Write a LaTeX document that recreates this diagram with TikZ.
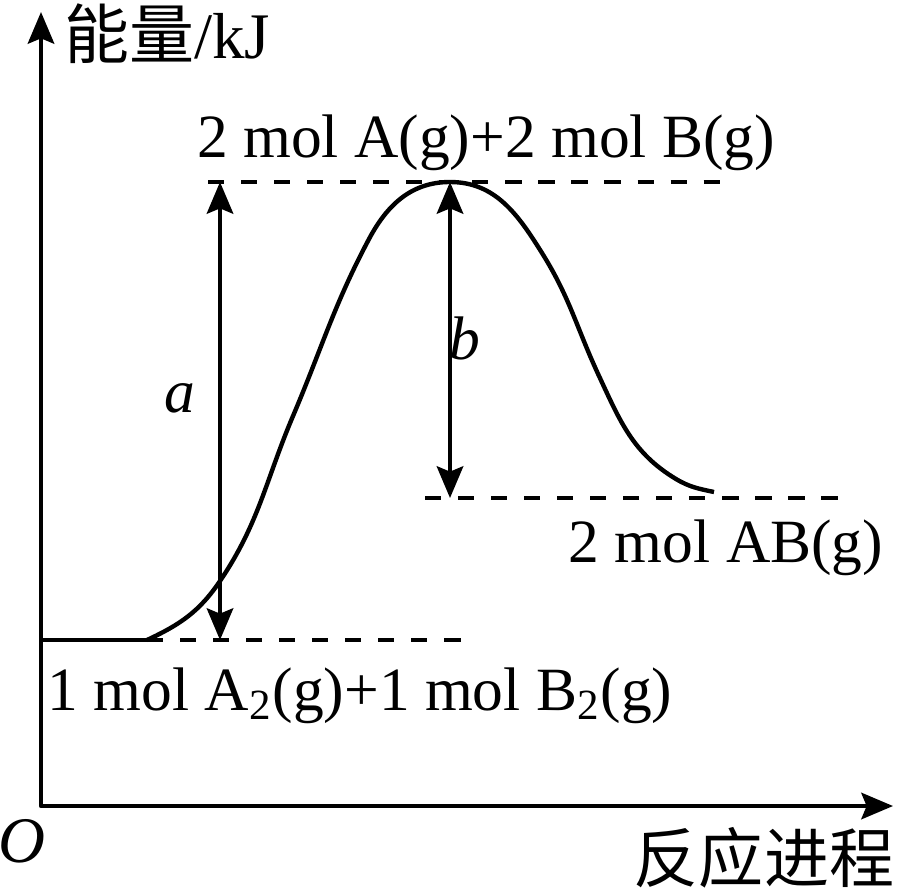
\documentclass[tikz,border=0pt]{standalone}
\usepackage{fontspec}
\setmainfont{Liberation Serif}
\newfontfamily\cjk{Noto Sans CJK SC}
\usetikzlibrary{arrows.meta, calc}

\begin{document}
\begin{tikzpicture}[line cap=butt,line join=round,>={Stealth[length=9pt,width=7.5pt,inset=1.5pt]},x=1cm,y=1cm,
  axis/.style={line width=1.25pt},
  level/.style={line width=1.25pt,dash pattern=on 4.6pt off 4.8pt},
  lbl/.style={inner sep=0pt,font=\fontsize{17.5}{20}\selectfont},
  axlbl/.style={inner sep=0pt,font=\fontsize{18.5}{20}\selectfont}]
\useasboundingbox (0,0) rectangle (8.99,8.94);
% axes
\coordinate (O) at (0.41,0.88);
\coordinate (ytip) at (0.41,8.82);
\coordinate (xtip) at (8.93,0.88);
\draw[axis,<->] (ytip) -- (O) -- (xtip);
\node[axlbl] (o) at (0.22,0.53) {\textit{O}};
\node[axlbl] (ylab) at (1.67,8.60) {{\cjk 能量}/kJ};
\node[axlbl] (xlab) at (7.64,0.36) {\cjk 反应进程};
% energy levels
\coordinate (r1) at (1.47,2.54);
\coordinate (r2) at (4.65,2.54);
\coordinate (ts) at (2.08,7.12);
\coordinate (te) at (7.25,7.12);
\coordinate (ps) at (4.25,3.96);
\coordinate (pe) at (8.43,3.96);
\draw[axis] (O|-r1) -- (r1);
\draw[level] (r1) -- (r2);
\draw[level] (ts) -- (te);
\draw[level] (ps) -- (pe);
% reaction path
\coordinate (peak) at (4.50,7.12);
\coordinate (pend) at (7.14,4.02);
\draw[axis] (r1) to[out=25,in=236] (2.20,3.13) to[out=56,in=247] (2.93,4.78)
  to[out=67,in=242] (3.69,6.55) to[out=62,in=180] (peak)
  to[out=0,in=122] (5.42,6.41) to[out=-58,in=115] (5.99,5.18)
  to[out=-65,in=149] (6.76,4.15) to[out=-31,in=168] (pend);
% a and b
\coordinate (aT) at (2.20,7.12);
\coordinate (aB) at (2.20,2.54);
\coordinate (bB) at (4.50,3.96);
\draw[axis,<->] (aT) -- (aB);
\draw[axis,<->] (peak) -- (bB);
\node[lbl] (a) at (1.80,4.96) {\textit{a}};
\node[lbl] (b) at (4.65,5.56) {\textit{b}};
% labels
\node[lbl,anchor=base] (top) at (4.86,7.37) {2 mol A(g)+2 mol B(g)};
\node[lbl,anchor=base] (prod) at (7.26,3.32) {2 mol AB(g)};
\node[lbl,anchor=base] (reac) at (3.60,1.84) {1 mol A\textsubscript{2}(g)+1 mol B\textsubscript{2}(g)};
\end{tikzpicture}
\end{document}
